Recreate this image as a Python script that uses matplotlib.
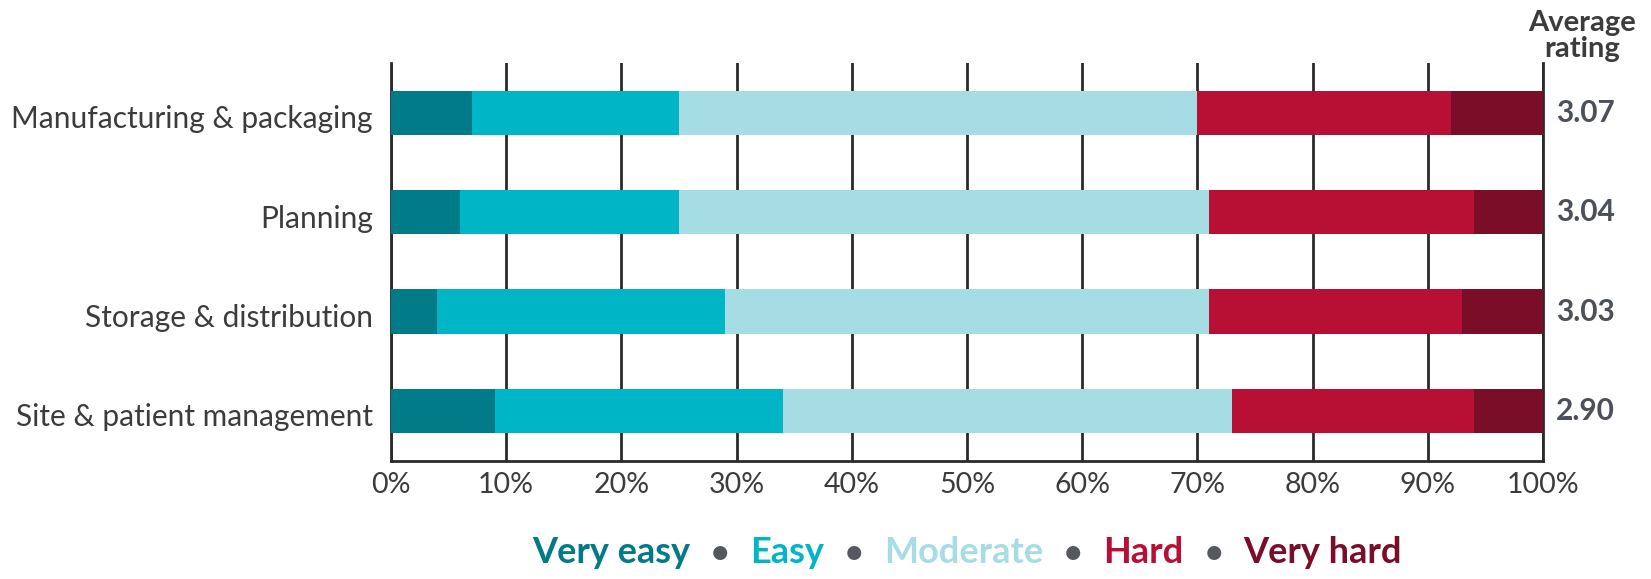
import matplotlib.pyplot as plt
import matplotlib.transforms as mtransforms
from matplotlib.offsetbox import TextArea, HPacker, AnchoredOffsetbox
import numpy as np

plt.rcParams['font.family'] = ['Lato', 'DejaVu Sans']

# Survey results: share of respondents per difficulty level (%)
categories = ["Manufacturing & packaging", "Planning",
              "Storage & distribution", "Site & patient management"]
very_easy = [7, 6, 4, 9]
easy = [18, 19, 25, 25]
moderate = [45, 46, 42, 39]
hard = [22, 23, 22, 21]
very_hard = [8, 6, 7, 6]
ratings = [3.07, 3.04, 3.03, 2.90]

levels = ["Very easy", "Easy", "Moderate", "Hard", "Very hard"]
colors = ["#007b87", "#00b5c6", "#a6dce4", "#b81035", "#7a0e29"]
series = [very_easy, easy, moderate, hard, very_hard]

TEXT = "#3c3c3c"
LINE = "#2a2a2a"

fig = plt.figure(figsize=(16.51, 5.79), dpi=100)
ax = fig.add_axes([0.2368, 0.2045, 0.6978, 0.6865])

y = np.arange(len(categories))
left = np.zeros(len(categories))
for vals, col, name in zip(series, colors, levels):
    ax.barh(y, vals, left=left, height=0.445, color=col, label=name, zorder=3)
    left += np.array(vals)

ax.set_xlim(0, 100)
ax.set_ylim(len(categories) - 0.5, -0.5)

ax.set_xticks(np.arange(0, 101, 10))
ax.set_xticklabels([f"{v}%" for v in range(0, 101, 10)])
ax.set_yticks(y)
ax.set_yticklabels(categories)
ax.tick_params(axis='both', length=0, colors=TEXT)
ax.tick_params(axis='x', pad=8, labelsize=20.5)
ax.tick_params(axis='y', pad=13, labelsize=21.5)

# nudge category labels slightly down
shift = mtransforms.ScaledTranslation(0, -4 / 100, fig.dpi_scale_trans)
for lbl in ax.get_yticklabels():
    lbl.set_transform(lbl.get_transform() + shift)

ax.grid(axis='x', color=LINE, linewidth=2.0, zorder=0)
ax.grid(axis='y', visible=False)
ax.set_axisbelow(True)
for side in ['left', 'bottom', 'right']:
    ax.spines[side].set_color(LINE)
    ax.spines[side].set_linewidth(2.0)
ax.spines['top'].set_visible(False)

# Average rating column to the right of the bars
trans = ax.get_yaxis_transform()
for yi, r in zip(y, ratings):
    ax.text(1.011, yi, f"{r:.2f}", transform=trans, ha='left', va='center',
            fontsize=21.5, fontweight='bold', color="#4b5059")
fig.text(0.958, 0.938, "Average\nrating", ha='center', va='center',
         fontsize=21, fontweight='bold', color=TEXT, linespacing=1.0)

# Coloured word legend separated by bullets
parts = []
for i, (name, col) in enumerate(zip(levels, colors)):
    if i > 0:
        parts.append(TextArea("\u2022", textprops=dict(color="#55595f", fontsize=23,
                                                       fontweight='bold')))
    parts.append(TextArea(name, textprops=dict(color=col, fontsize=26,
                                               fontweight='bold')))
pack = HPacker(children=parts, align='baseline', pad=0, sep=15)
box = AnchoredOffsetbox(loc='center', child=pack, frameon=False,
                        bbox_to_anchor=(0.5857, 0.046),
                        bbox_transform=fig.transFigure)
fig.add_artist(box)

fig.savefig("out.png", dpi=100, facecolor='white')
